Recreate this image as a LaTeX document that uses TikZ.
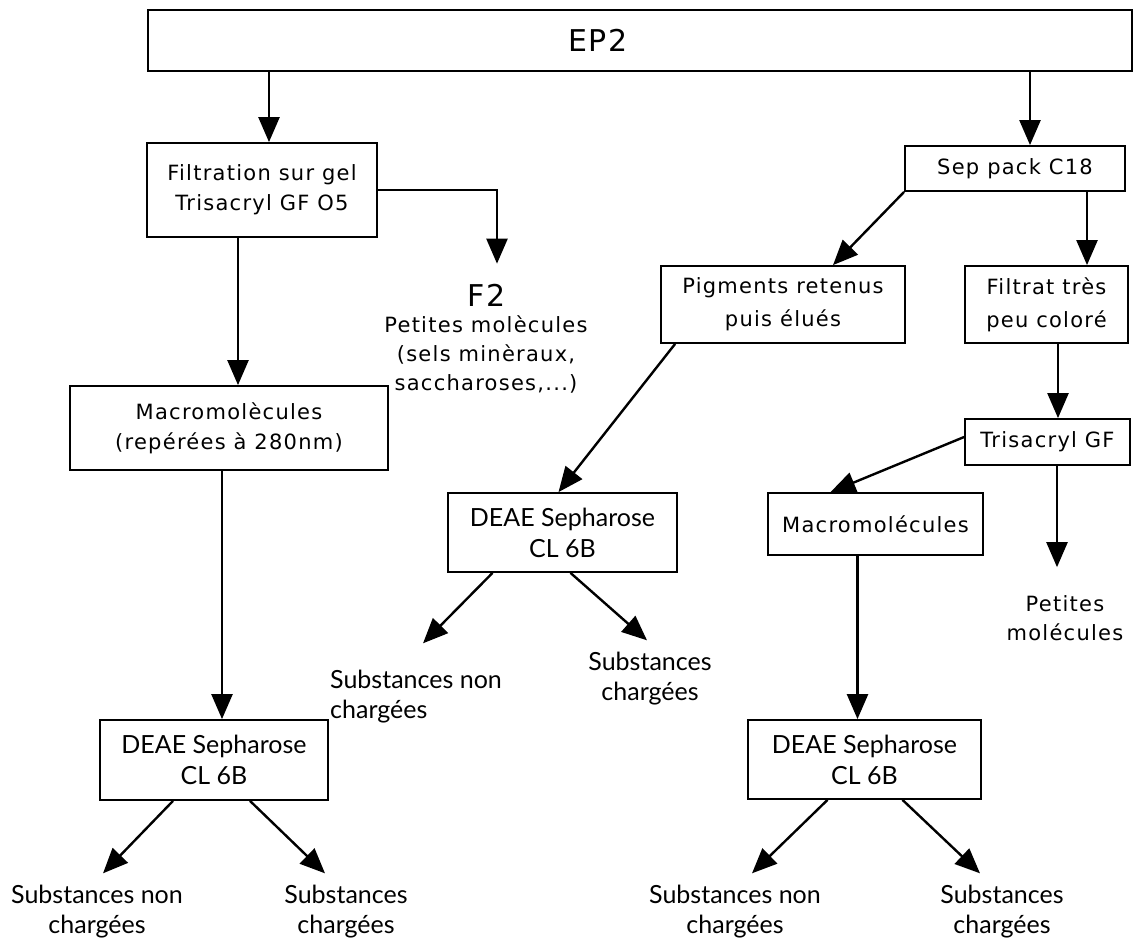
\documentclass[tikz,border=0pt]{standalone}
\usepackage{fontspec}
\setmainfont{DejaVu Sans}[LetterSpace=6]
\newfontfamily\optm{Lato}
\usepackage{tikz}
\usetikzlibrary{arrows.meta,positioning,calc}
\tikzset{
  box/.style   ={rectangle, draw=black, line width=1.8pt, align=center, inner sep=0pt,
                 font=\fontsize{21}{30}\selectfont},
  deae/.style  ={font=\optm\fontsize{25}{31}\selectfont},
  fl/.style    ={-{Triangle[length=25pt,width=21pt]}, line width=2.4pt, draw=black},
  lbl/.style   ={align=center, inner sep=0pt, font=\fontsize{21}{29}\selectfont},
  big/.style   ={inner sep=0pt, font=\fontsize{30}{34}\selectfont},
  subst/.style ={align=center, inner xsep=0pt, inner ysep=12pt, font=\optm\fontsize{25}{30}\selectfont},
}
\begin{document}
\begin{tikzpicture}[x=1pt,y=-1pt]
  \useasboundingbox (0,0) rectangle (1134,941);
  \node[box,minimum width=984pt,minimum height=61pt,
        label={[big,xshift=-42pt]center:EP2}] (ep) at (640,40.5) {};
  \node[box,minimum width=230pt,minimum height=94pt] (filt) at (262,190) {Filtration sur gel\\Trisacryl GF O5};
  \node[big] (f2) at (487,295) {F2};
  \node[lbl] (petL) at (486,354) {Petites molècules\\(sels minèraux,\\saccharoses,...)};
  \node[box,minimum width=318pt,minimum height=84pt] (macL) at (229,428) {Macromolècules\\(repérées à 280nm)};
  \node[box,deae,minimum width=228pt,minimum height=80pt] (deaeL) at (214,760) {DEAE Sepharose\\CL 6B};
  \node[subst] (subL1) at (97,912) {Substances non\\chargées};
  \node[subst] (subL2) at (346,912) {Substances\\chargées};
  \node[box,minimum width=220pt,minimum height=45pt] (sep) at (1015,168.5) {Sep pack C18};
  \node[box,minimum width=244pt,minimum height=77pt,font=\fontsize{21}{33}\selectfont] (pig) at (783,304.5) {Pigments retenus\\puis élués};
  \node[box,minimum width=163pt,minimum height=77pt,font=\fontsize{21}{33}\selectfont] (filtrat) at (1046.5,304.5) {Filtrat très\\peu coloré};
  \node[box,deae,minimum width=229pt,minimum height=79pt] (deaeM) at (562.5,532.5) {DEAE Sepharose\\CL 6B};
  \node[subst,align=left,anchor=west] (subM1) at (330,697) {Substances non\\chargées};
  \node[subst] (subM2) at (650,679) {Substances\\chargées};
  \node[box,minimum width=165pt,minimum height=46pt] (tris) at (1047.5,442) {Trisacryl GF};
  \node[box,minimum width=215pt,minimum height=62pt] (macR) at (875.5,524) {Macromolécules};
  \node[lbl] (petR) at (1065,618) {Petites\\molécules};
  \node[box,deae,minimum width=233pt,minimum height=79pt] (deaeR) at (864.5,759.5) {DEAE Sepharose\\CL 6B};
  \node[subst] (subR1) at (735,912) {Substances non\\chargées};
  \node[subst] (subR2) at (1002,912) {Substances\\chargées};
  \draw[fl] ([xshift=7pt]filt.north |- ep.south) -- ([xshift=7pt]filt.north);
  \draw[fl] ([xshift=15pt]sep.north |- ep.south) -- ([xshift=15pt]sep.north);
  \draw[fl] (filt.east) -| ([xshift=10pt,yshift=20pt]f2.north);
  \draw[fl] ([xshift=-24pt]filt.south) -- ([xshift=-24pt]filt.south |- macL.north);
  \draw[fl] ([xshift=8pt]deaeL.north |- macL.south) -- ([xshift=8pt]deaeL.north);
  \draw[fl] ([xshift=-41pt]deaeL.south) -- ([xshift=6pt]subL1.north);
  \draw[fl] ([xshift=36pt]deaeL.south) -- ([xshift=-21pt]subL2.north);
  \draw[fl] (sep.south west) -- ([xshift=50pt]pig.north);
  \draw[fl] ([xshift=72pt]sep.south) -- ([xshift=72pt]sep.south |- filtrat.north);
  \draw[fl] ([xshift=11.5pt]filtrat.south) -- ([xshift=11.5pt]filtrat.south |- tris.north);
  \draw[fl] ([xshift=15pt]pig.south west) -- ([xshift=-4pt]deaeM.north);
  \draw[fl] ([xshift=-70pt]deaeM.south) -- ([xshift=7pt,yshift=15pt]subM1.north);
  \draw[fl] ([xshift=8pt]deaeM.south) -- ([xshift=-3pt]subM2.north);
  \draw[fl] ([yshift=5pt]tris.west) -- ([xshift=-45pt]macR.north);
  \draw[fl] ([xshift=9.5pt]tris.south) -- ([xshift=-8pt,yshift=28pt]petR.north);
  \draw[fl] ([xshift=-7pt]deaeR.north |- macR.south) -- ([xshift=-7pt]deaeR.north);
  \draw[fl] ([xshift=-37pt]deaeR.south) -- ([xshift=17pt]subR1.north);
  \draw[fl] ([xshift=38pt]deaeR.south) -- ([xshift=-22pt]subR2.north);
\end{tikzpicture}
\end{document}
